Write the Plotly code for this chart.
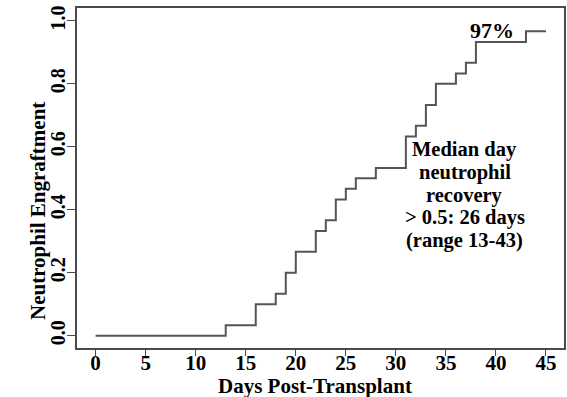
import plotly.graph_objects as go

# Step data (cumulative neutrophil engraftment)
days = [0, 13, 16, 18, 19, 20, 22, 23, 24, 25, 26, 28, 31, 32, 33, 34, 36, 37, 38, 43, 45]
engraft = [0.0, 0.033, 0.1, 0.133, 0.2, 0.267, 0.333, 0.367, 0.433, 0.467, 0.5,
           0.533, 0.633, 0.667, 0.733, 0.8, 0.833, 0.867, 0.933, 0.967, 0.967]

x_ticks = [0, 5, 10, 15, 20, 25, 30, 35, 40, 45]
y_ticks = [0.0, 0.2, 0.4, 0.6, 0.8, 1.0]
y_tick_labels = ["0.0", "0.2", "0.4", "0.6", "0.8", "1.0"]

note_lines = ["Median day", "neutrophil", "recovery", "> 0.5: 26 days", "(range 13-43)"]
note_y = [0.593, 0.520, 0.447, 0.374, 0.301]
note_x = 36.9

FONT = "Liberation Serif"
AXC = "#4a4a4a"

fig = go.Figure()
fig.add_trace(go.Scatter(x=days, y=engraft, mode="lines", line_shape="hv",
                         line=dict(color="#555555", width=2), showlegend=False,
                         hoverinfo="skip"))

fig.add_annotation(x=39.6, y=0.968, text="97%", showarrow=False,
                   font=dict(family=FONT, size=22, color="black", weight="bold"),
                   xanchor="center", yanchor="middle")
for t, yy in zip(note_lines, note_y):
    fig.add_annotation(x=note_x, y=yy, text=t, showarrow=False,
                       font=dict(family=FONT, size=20.5, color="black", weight="bold"),
                       xanchor="center", yanchor="middle")

fig.add_annotation(xref="paper", yref="paper", x=-0.08, y=0.403,
                   text="Neutrophil Engraftment", textangle=-90, showarrow=False,
                   font=dict(family=FONT, size=21, color="black", weight="bold"),
                   xanchor="center", yanchor="middle")
fig.add_annotation(xref="paper", yref="paper", x=0.489, y=-0.111,
                   text="Days Post-Transplant", showarrow=False,
                   font=dict(family=FONT, size=21, color="black", weight="bold"),
                   xanchor="center", yanchor="middle")

fig.update_xaxes(range=[-1.86, 46.8], tickmode="array", tickvals=x_ticks,
                 showline=True, mirror=True, linecolor=AXC, linewidth=1.5,
                 ticks="outside", ticklen=6, tickcolor=AXC, tickwidth=1.2,
                 ticklabelstandoff=-11,
                 showgrid=False, zeroline=False,
                 tickfont=dict(family=FONT, size=21, color="black", weight="bold"))
fig.update_yaxes(range=[-0.039, 1.041], tickmode="array", tickvals=y_ticks,
                 ticktext=y_tick_labels, tickangle=-90,
                 showline=True, mirror=True, linecolor=AXC, linewidth=1.5,
                 ticks="outside", ticklen=8, tickcolor=AXC, tickwidth=1.2,
                 ticklabelstandoff=-6,
                 showgrid=False, zeroline=False,
                 tickfont=dict(family=FONT, size=20, color="black", weight="bold"))

fig.update_layout(width=567, height=397, margin=dict(l=77, r=1, t=8, b=49),
                  plot_bgcolor="white", paper_bgcolor="white")

fig.write_html("out.html")
